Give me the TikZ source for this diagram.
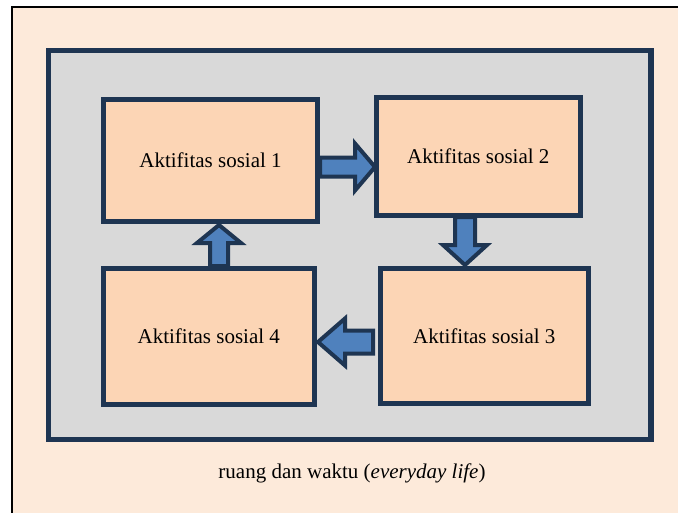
\documentclass[tikz,border=0pt]{standalone}
\usepackage{fontspec}
\setmainfont{Liberation Serif}
\usetikzlibrary{calc}

\definecolor{pagebg}{RGB}{253,234,218}
\definecolor{boxfill}{RGB}{252,213,181}
\definecolor{panelgray}{RGB}{217,217,217}
\definecolor{navy}{RGB}{30,53,82}
\definecolor{arrowblue}{RGB}{79,129,189}

\tikzset{
  activity/.style={draw=navy, line width=5pt, fill=boxfill, inner sep=0pt,
    font=\fontsize{21}{25}\selectfont},
  blockarrow/.style={draw=navy, line width=4pt, fill=arrowblue, line join=miter},
}

% block arrow from #1 (tail) to #2 (tip): shaft half width #3,
% head half width #4, head length #5
\newcommand{\blockarr}[5]{%
  \draw[blockarrow]
    ($(#1)!#3!90:(#2)$) --
    ($($(#2)!#5!(#1)$)!#3!90:(#2)$) --
    ($($(#2)!#5!(#1)$)!#4!90:(#2)$) --
    (#2) --
    ($($(#2)!#5!(#1)$)!#4!-90:(#2)$) --
    ($($(#2)!#5!(#1)$)!#3!-90:(#2)$) --
    ($(#1)!#3!-90:(#2)$) -- cycle;
}

\begin{document}
\begin{tikzpicture}[x=1pt, y=-1pt]
  \useasboundingbox (0,0) rectangle (678,512);
  \fill[white] (0,0) rectangle (678,512);
  \begin{scope}
    \clip (0,0) rectangle (678,512);
    \draw[black, line width=2pt, fill=pagebg] (12,7) rectangle (700,540);
  \end{scope}

  % grey panel
  \draw[navy, line width=5.5pt, fill=panelgray] (48.5,50.5) rectangle (651,439.5);

  % activity boxes
  \node[activity, minimum width=214pt, minimum height=121.5pt] (b1) at (210.5,160.25) {Aktifitas sosial 1};
  \node[activity, minimum width=203.5pt, minimum height=118pt] (b2) at (478.25,156) {Aktifitas sosial 2};
  \node[activity, minimum width=207.5pt, minimum height=134.5pt] (b3) at (484.25,335.75) {Aktifitas sosial 3};
  \node[activity, minimum width=211.5pt, minimum height=136pt] (b4) at (208.75,336) {Aktifitas sosial 4};

  % arrow end points
  \coordinate (a1s) at (b1.east |- 0,167);
  \coordinate (a1e) at (375,167);
  \coordinate (a2s) at (465,217);
  \coordinate (a2e) at (465,265);
  \coordinate (a3s) at (373,342);
  \coordinate (a3e) at (318,342);
  \coordinate (a4s) at (219,266);
  \coordinate (a4e) at (219,225);

  \blockarr{a1s}{a1e}{9.5pt}{23.5pt}{20pt}
  \blockarr{a2s}{a2e}{10pt}{22pt}{20pt}
  \blockarr{a3s}{a3e}{11.5pt}{23.5pt}{27pt}
  \blockarr{a4s}{a4e}{9pt}{22pt}{18pt}

  \node[anchor=base, font=\fontsize{21}{25}\selectfont, inner sep=0pt] (cap) at (352,478)
    {ruang dan waktu (\textit{everyday life})};
\end{tikzpicture}
\end{document}
